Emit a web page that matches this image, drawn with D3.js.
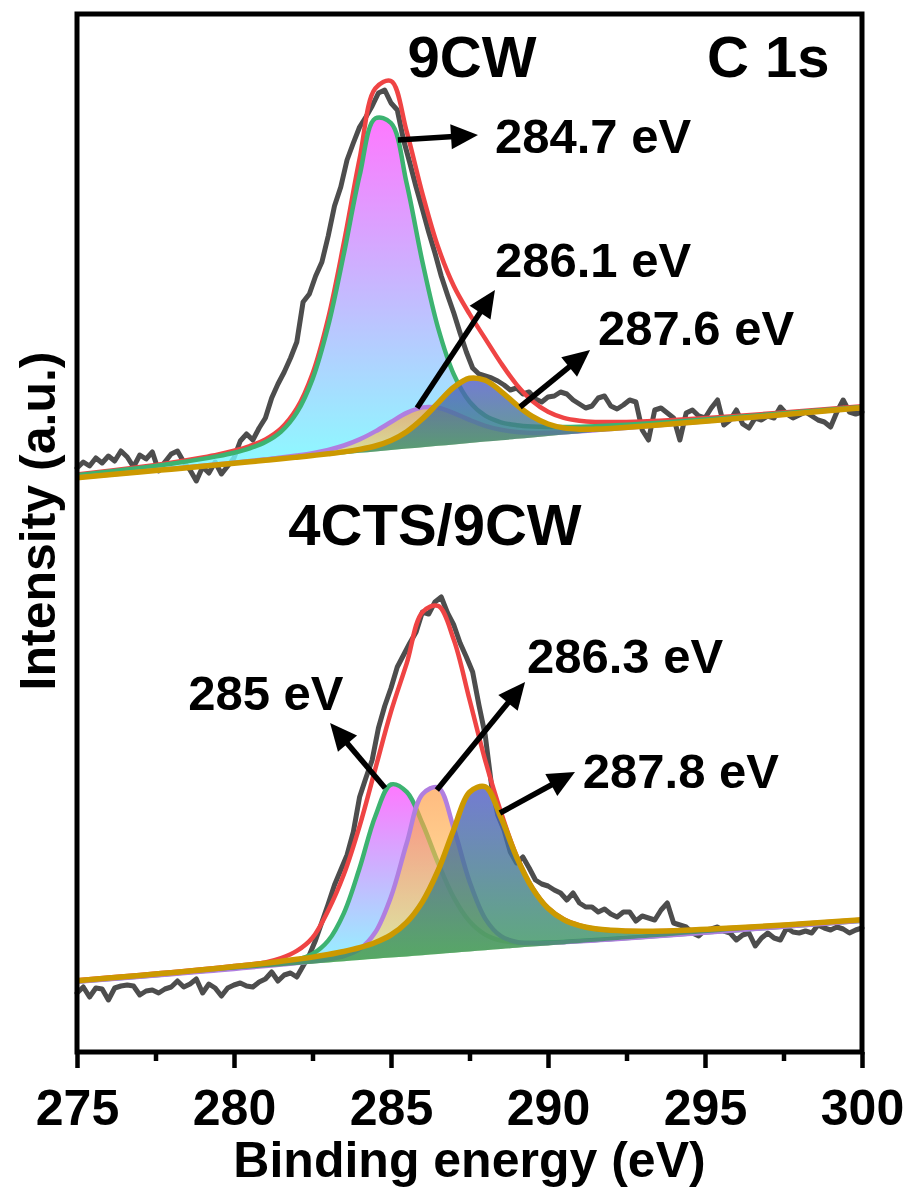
<!DOCTYPE html>
<html lang="en">
<head>
<meta charset="UTF-8">
<title>C 1s XPS</title>
<style>
  body { margin: 0; background: #fff; }
  svg text { font-family: "Liberation Sans", Arial, sans-serif; font-weight: bold; fill: #000; }
</style>
</head>
<body>
<div id="chart"></div>
<script src="https://d3js.org/d3.v7.min.js"></script>
<script>
// raw spectra, 0.2 eV step from 275 to 300 eV (a.u.)
const rawEnergy = d3.range(126).map(i => 275 + i * 0.2);

const rawTop = [
  58.4, 59.0, 58.6, 59.4, 58.9, 59.6, 59.1, 60.1, 59.5, 58.5,
  59.7, 59.3, 60.0, 58.1, 59.0, 59.8, 60.1, 59.0, 58.2, 57.1,
  58.5, 57.9, 59.0, 57.8, 58.6, 59.4, 61.1, 61.8, 61.2, 62.4,
  63.4, 65.4, 66.8, 68.0, 69.4, 71.0, 75.0, 75.8, 77.6, 79.0,
  81.6, 84.6, 86.5, 89.2, 90.9, 92.5, 93.5, 94.6, 95.9, 96.2,
  94.9, 94.2, 91.2, 88.9, 86.5, 84.3, 82.0, 79.9, 77.6, 75.7,
  73.9, 71.9, 70.0, 68.4, 67.8, 67.6, 67.4, 67.1, 66.7, 66.2,
  66.4, 65.8, 66.0, 65.3, 65.0, 65.5, 65.6, 66.0, 65.8, 65.2,
  64.8, 64.4, 64.6, 65.4, 65.6, 64.6, 64.3, 64.7, 65.2, 65.0,
  62.2, 61.2, 64.2, 64.4, 63.9, 63.4, 61.2, 63.9, 64.2, 63.6,
  63.4, 64.4, 65.2, 62.7, 63.2, 64.2, 62.8, 62.4, 63.4, 63.2,
  63.6, 63.4, 64.5, 63.8, 63.4, 63.7, 64.0, 63.6, 63.2, 63.0,
  62.5, 64.0, 65.2, 64.0, 63.8, 64.0
];

const rawBottom = [
  5.9, 6.5, 5.5, 6.4, 6.3, 5.2, 6.4, 6.6, 6.7, 6.6,
  5.7, 6.1, 6.2, 5.9, 6.3, 6.5, 7.1, 6.5, 6.8, 7.3,
  5.9, 6.8, 6.4, 5.6, 6.4, 6.7, 6.9, 6.6, 6.5, 7.0,
  7.3, 8.0, 7.1, 7.7, 7.9, 7.5, 8.6, 9.7, 11.2, 13.0,
  14.8, 16.7, 18.2, 19.7, 22.0, 25.5, 27.4, 29.2, 32.4, 34.6,
  36.4, 38.5, 39.7, 40.9, 42.0, 44.0, 43.8, 45.0, 45.5, 43.9,
  42.7, 40.9, 39.5, 38.0, 34.7, 31.7, 26.7, 23.7, 22.2, 20.0,
  18.9, 19.5, 18.4, 17.2, 16.8, 16.6, 16.2, 15.9, 15.2, 15.9,
  14.9, 14.5, 14.5, 14.0, 14.3, 13.8, 13.5, 14.0, 14.0, 13.1,
  13.6, 13.4, 13.2, 14.2, 14.9, 12.9, 12.7, 12.5, 11.9, 11.6,
  12.2, 12.3, 12.5, 12.1, 11.9, 11.2, 11.7, 11.9, 10.6, 11.4,
  11.9, 11.4, 11.2, 12.4, 12.0, 11.9, 12.1, 11.9, 12.7, 12.4,
  12.2, 12.5, 12.3, 11.9, 12.2, 12.4
];

// energies where the fitted curves are sampled
const fitEnergy = [275, 277, 278, 279, 279.5, 280, 280.5, 281, 281.5, 282,
  282.5, 283, 283.5, 284, 284.5, 285, 285.5, 286, 286.5, 287,
  287.5, 288, 288.5, 289, 289.5, 290, 290.5, 291, 291.5, 292,
  293, 294, 296, 298, 300];

// linear background: value at 275 eV and at 300 eV
const bgTop = [57.4, 64.4];
const bgBottom = [7.0, 13.1];

// 9CW components, height above background
const top2847 = [0.28, 0.44, 0.58, 0.79, 0.93, 1.13, 1.43, 1.91, 2.82, 4.58,
  7.79, 12.99, 20.07, 27.72, 33.3, 32.7, 26.5, 18.55, 11.78, 7.0,
  4.13, 2.59, 1.79, 1.36, 1.09, 0.90, 0.76, 0.65, 0.56, 0.49,
  0.38, 0.31, 0.21, 0.15, 0.11];
const top2861 = [0.04, 0.06, 0.08, 0.10, 0.11, 0.13, 0.15, 0.18, 0.22, 0.29,
  0.39, 0.57, 0.87, 1.34, 2.0, 2.80, 3.57, 3.98, 3.80, 3.13,
  2.31, 1.58, 1.04, 0.67, 0.45, 0.32, 0.24, 0.20, 0.16, 0.14,
  0.10, 0.08, 0.05, 0.04, 0.03];
const top2876 = [0.03, 0.04, 0.04, 0.05, 0.06, 0.07, 0.08, 0.09, 0.10, 0.12,
  0.15, 0.18, 0.23, 0.34, 0.54, 0.95, 1.69, 2.84, 4.29, 5.71,
  6.47, 6.13, 4.89, 3.39, 2.10, 1.20, 0.67, 0.40, 0.27, 0.20,
  0.13, 0.10, 0.06, 0.04, 0.03];
const topEnvelope = [0.35, 0.54, 0.70, 0.94, 1.10, 1.33, 1.66, 2.18, 3.14, 4.99,
  8.33, 13.74, 21.17, 29.40, 36.3, 36.9, 31.7, 25.37, 19.87, 15.84,
  12.91, 10.30, 7.72, 5.42, 3.64, 2.42, 1.67, 1.25, 0.99, 0.83,
  0.61, 0.49, 0.32, 0.23, 0.17];

// 4CTS/9CW components, height above background
const bot2850 = [0.04, 0.07, 0.09, 0.12, 0.14, 0.17, 0.20, 0.26, 0.34, 0.51,
  0.97, 2.18, 4.82, 9.20, 14.26, 17.31, 16.44, 13.17, 9.09, 5.51,
  3.02, 1.57, 0.85, 0.52, 0.37, 0.29, 0.23, 0.20, 0.17, 0.15,
  0.11, 0.09, 0.06, 0.04, 0.03];
const bot2863 = [0.03, 0.04, 0.05, 0.07, 0.08, 0.09, 0.11, 0.13, 0.16, 0.19,
  0.24, 0.33, 0.52, 1.08, 2.65, 6.08, 11.31, 16.09, 16.64, 12.42,
  7.01, 3.17, 1.29, 0.59, 0.35, 0.25, 0.20, 0.16, 0.13, 0.11,
  0.08, 0.06, 0.04, 0.03, 0.02];
const bot2878 = [0.12, 0.17, 0.20, 0.25, 0.28, 0.32, 0.36, 0.41, 0.48, 0.56,
  0.66, 0.80, 0.98, 1.24, 1.63, 2.27, 3.40, 5.33, 8.35, 12.33,
  15.93, 16.35, 13.16, 9.08, 5.85, 3.71, 2.45, 1.73, 1.30, 1.03,
  0.69, 0.49, 0.29, 0.19, 0.13];
const botEnvelope = [0.17, 0.22, 0.25, 0.30, 0.33, 0.37, 0.42, 0.50, 0.80, 1.4,
  2.6, 5.2, 8.7, 13.4, 19.0, 24.6, 29.3, 34.3, 34.8, 31.3,
  25.2, 19.0, 13.7, 9.2, 5.9, 3.75, 2.5, 1.75, 1.3, 1.03,
  0.69, 0.49, 0.29, 0.19, 0.13];

const xTicks = [275, 280, 285, 290, 295, 300];
const xMinorTicks = [277.5, 282.5, 287.5, 292.5, 297.5];

const panelTitles = [
  { text: "9CW", at: [287.58, 97.5], anchor: "middle" },
  { text: "C 1s", at: [295.06, 97.5], anchor: "start" },
  { text: "4CTS/9CW", at: [286.4, 50.7], anchor: "middle" }
];

// peak labels and arrows (eV, a.u.)
const annotations = [
  { text: "284.7 eV", at: [288.31, 89.9], from: [285.22, 91.2], to: [287.77, 91.7] },
  { text: "286.1 eV", at: [288.31, 77.5], from: [285.83, 64.4], to: [288.31, 76.2] },
  { text: "287.6 eV", at: [291.59, 70.7], from: [289.11, 64.5], to: [291.34, 70.2] },
  { text: "285 eV", at: [278.54, 34.2], from: [284.81, 26.4], to: [283.06, 32.9] },
  { text: "286.3 eV", at: [289.33, 37.9], from: [286.46, 26.2], to: [289.27, 37.0] },
  { text: "287.8 eV", at: [291.11, 26.4], from: [288.47, 23.9], to: [290.86, 28.0] }
];

var margin = {top: 14, right: 46, bottom: 138, left: 77},
  width = 908 - margin.left - margin.right,
  height = 1190 - margin.top - margin.bottom;

var root = d3.select("#chart")
  .append("svg")
  .attr("width", width + margin.left + margin.right)
  .attr("height", height + margin.top + margin.bottom);

var defs = root.append("defs");
function addGradient(id, c0, c1) {
  const g = defs.append("linearGradient")
    .attr("id", id)
    .attr("x1", 0).attr("y1", 0).attr("x2", 0).attr("y2", 1);
  g.append("stop").attr("offset", "0%").attr("stop-color", c0);
  g.append("stop").attr("offset", "100%").attr("stop-color", c1);
}
addGradient("gradC1", "rgb(255,90,255)", "rgb(110,255,255)");
addGradient("gradC2", "rgb(255,150,60)", "rgb(255,240,120)");
addGradient("gradC3", "rgb(80,90,200)", "rgb(50,160,70)");

var svg = root.append("g")
  .attr("transform", "translate(" + margin.left + "," + margin.top + ")");

const x = d3.scaleLinear().domain([275, 300]).range([0, width]);
const y = d3.scaleLinear().domain([0, 103.8]).range([height, 0]);

const compStyle = [
  { stroke: "#3cb371", fill: "url(#gradC1)", opacity: 0.82, width: 4.5 },
  { stroke: "#b07ee0", fill: "url(#gradC2)", opacity: 0.65, width: 4.5 },
  { stroke: "#cc9900", fill: "url(#gradC3)", opacity: 0.8, width: 5.5 }
];

const panels = [
  { raw: rawTop, bg: bgTop, envelope: topEnvelope, comps: [top2847, top2861, top2876] },
  { raw: rawBottom, bg: bgBottom, envelope: botEnvelope, comps: [bot2850, bot2863, bot2878] }
];

panels.forEach(p => {
  const bg = d3.scaleLinear().domain([275, 300]).range(p.bg);

  // raw data
  const rawLine = d3.line()
    .x((d, i) => x(rawEnergy[i]))
    .y(d => y(d));
  svg.append("path")
    .datum(p.raw)
    .attr("fill", "none")
    .attr("stroke", "#4d4d4d")
    .attr("stroke-width", 5)
    .attr("stroke-linejoin", "round")
    .attr("stroke-linecap", "round")
    .attr("d", rawLine);

  const fitLine = d3.line()
    .curve(d3.curveCatmullRom)
    .x((d, i) => x(fitEnergy[i]))
    .y((d, i) => y(bg(fitEnergy[i]) + d));

  // envelope
  svg.append("path")
    .datum(p.envelope)
    .attr("fill", "none")
    .attr("stroke", "#ef4444")
    .attr("stroke-width", 4.5)
    .attr("d", fitLine);

  // components
  const fitArea = d3.area()
    .curve(d3.curveCatmullRom)
    .x((d, i) => x(fitEnergy[i]))
    .y0((d, i) => y(bg(fitEnergy[i])))
    .y1((d, i) => y(bg(fitEnergy[i]) + d));

  p.comps.forEach((c, k) => {
    const st = compStyle[k];
    svg.append("path")
      .datum(c)
      .attr("fill", st.fill)
      .attr("fill-opacity", st.opacity)
      .attr("stroke", "none")
      .attr("d", fitArea);
    svg.append("path")
      .datum(c)
      .attr("fill", "none")
      .attr("stroke", st.stroke)
      .attr("stroke-width", st.width)
      .attr("stroke-linejoin", "round")
      .attr("d", fitLine);
  });
});

// arrows
const headLen = 27, headHalf = 12.5;
annotations.forEach(a => {
  const x0 = x(a.from[0]), y0 = y(a.from[1]);
  const x1 = x(a.to[0]), y1 = y(a.to[1]);
  const len = Math.hypot(x1 - x0, y1 - y0);
  const ux = (x1 - x0) / len, uy = (y1 - y0) / len;
  const bx = x1 - ux * headLen, by = y1 - uy * headLen;
  svg.append("line")
    .attr("x1", x0).attr("y1", y0)
    .attr("x2", x1 - ux * headLen * 0.6).attr("y2", y1 - uy * headLen * 0.6)
    .attr("stroke", "#000")
    .attr("stroke-width", 5.5);
  svg.append("path")
    .attr("d", "M" + x1 + "," + y1 +
      "L" + (bx - uy * headHalf) + "," + (by + ux * headHalf) +
      "L" + (bx + uy * headHalf) + "," + (by - ux * headHalf) + "Z")
    .attr("fill", "#000");
  svg.append("text")
    .attr("x", x(a.at[0]))
    .attr("y", y(a.at[1]))
    .style("font-size", "49px")
    .text(a.text);
});

panelTitles.forEach(t => {
  svg.append("text")
    .attr("x", x(t.at[0]))
    .attr("y", y(t.at[1]))
    .attr("text-anchor", t.anchor)
    .style("font-size", "58px")
    .text(t.text);
});

// frame
svg.append("rect")
  .attr("x", 0).attr("y", 0)
  .attr("width", width).attr("height", height)
  .attr("fill", "none")
  .attr("stroke", "#000")
  .attr("stroke-width", 5);

// x axis
const xAxis = svg.append("g")
  .attr("transform", `translate(0, ${height})`)
  .call(d3.axisBottom(x).tickValues(xTicks).tickSize(16).tickSizeOuter(0)
    .tickPadding(21).tickFormat(d3.format("d")));
xAxis.select(".domain").remove();
xAxis.selectAll(".tick line").attr("stroke", "#000").attr("stroke-width", 4.5);
xAxis.selectAll(".tick text")
  .style("font-family", '"Liberation Sans", Arial, sans-serif')
  .style("font-weight", "bold")
  .style("font-size", "50px")
  .attr("fill", "#000");

const xMinor = svg.append("g")
  .attr("transform", `translate(0, ${height})`)
  .call(d3.axisBottom(x).tickValues(xMinorTicks).tickSize(9).tickSizeOuter(0).tickFormat(""));
xMinor.select(".domain").remove();
xMinor.selectAll(".tick line").attr("stroke", "#000").attr("stroke-width", 4.5);

// axis titles
root.append("text")
  .attr("x", margin.left + width / 2)
  .attr("y", 1177)
  .attr("text-anchor", "middle")
  .style("font-size", "50px")
  .text("Binding energy (eV)");

root.append("text")
  .attr("transform", "translate(55, 521) rotate(-90)")
  .attr("text-anchor", "middle")
  .style("font-size", "50px")
  .text("Intensity (a.u.)");
</script>
</body>
</html>
